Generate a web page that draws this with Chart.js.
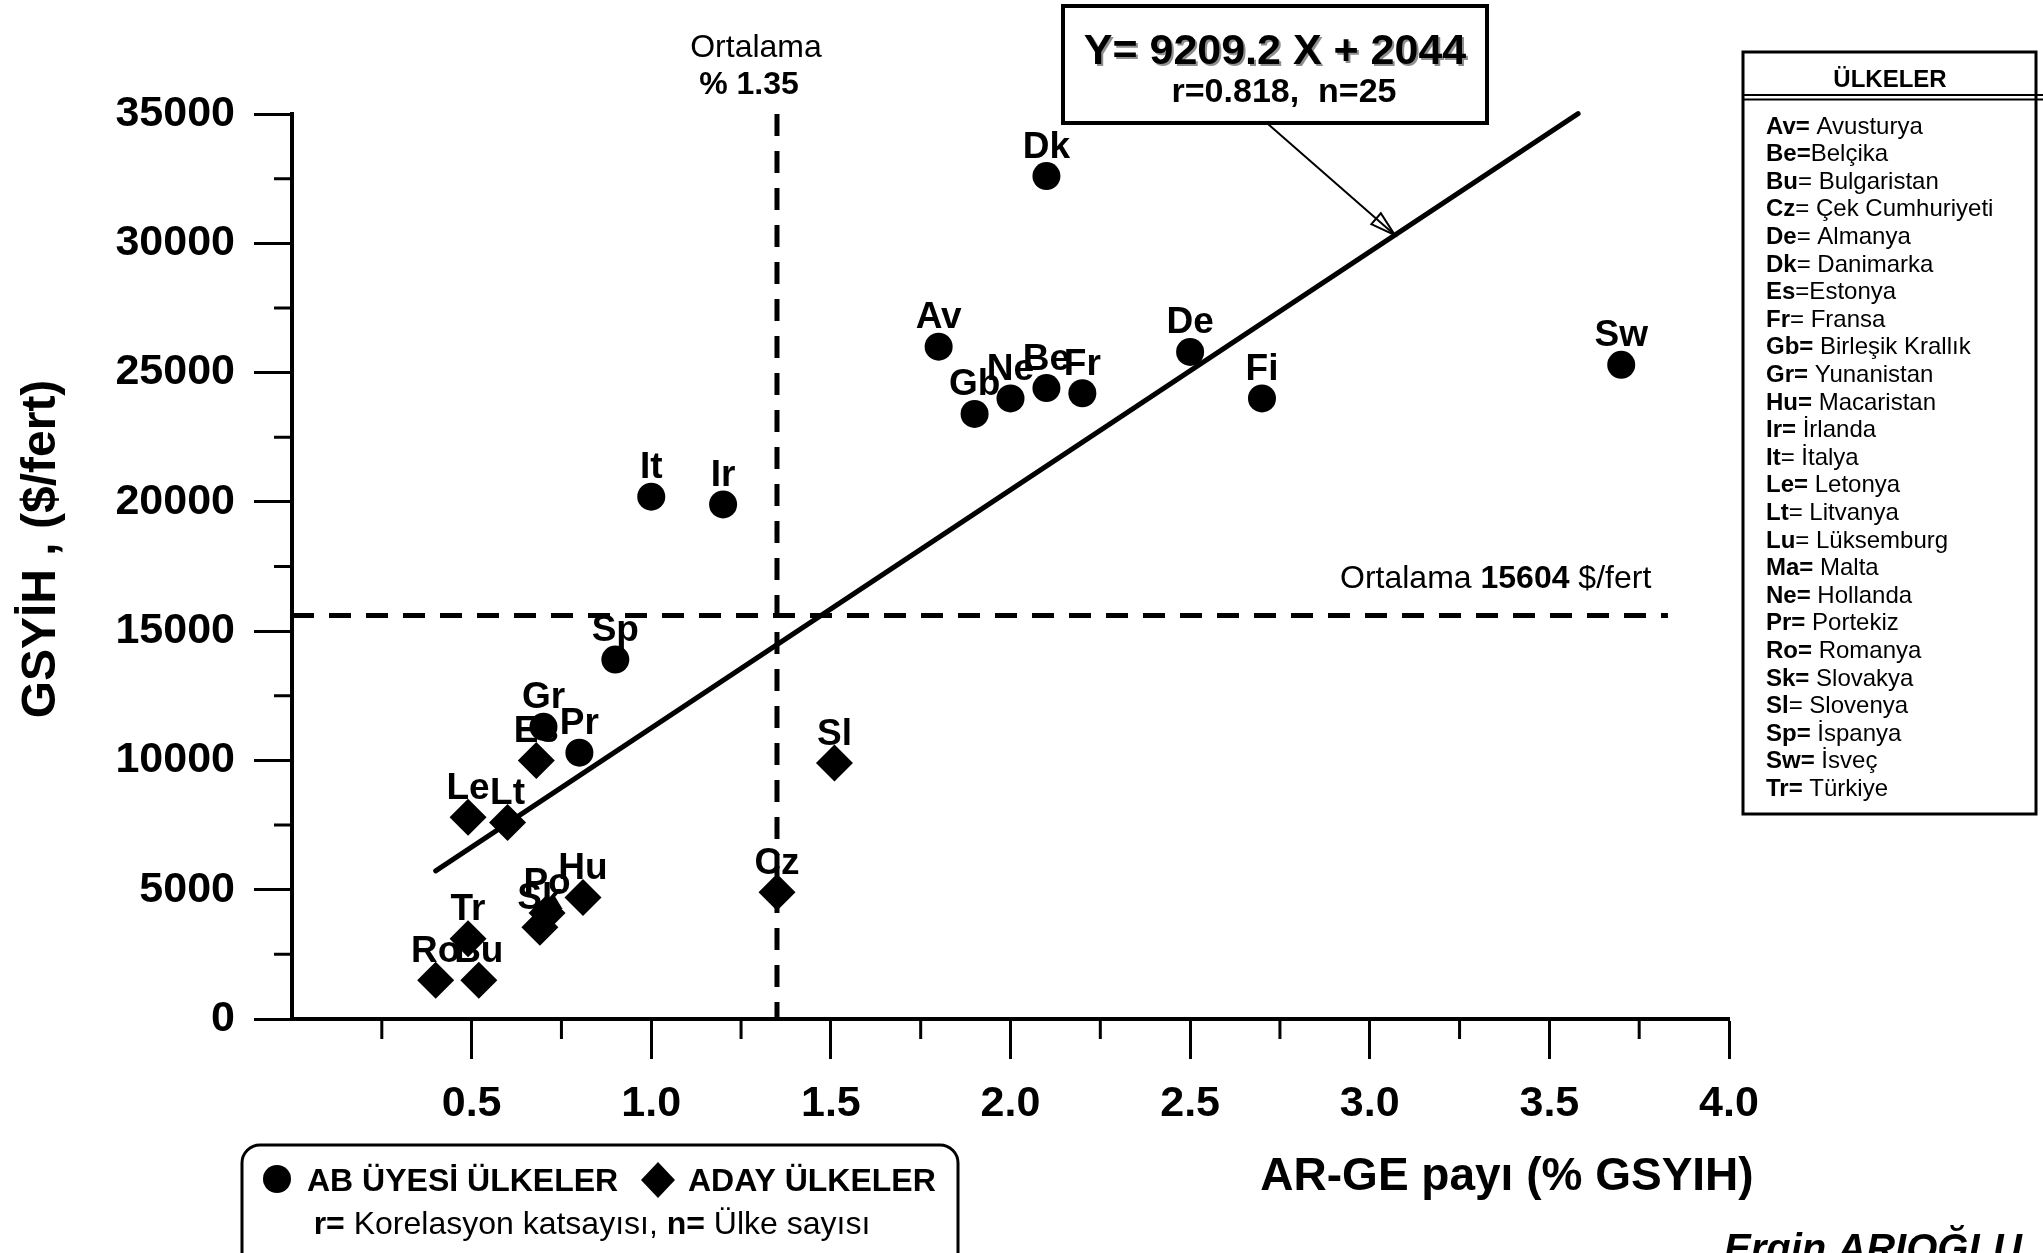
<!DOCTYPE html>
<html lang="tr">
<head>
<meta charset="utf-8">
<title>AR-GE payı ve GSYİH</title>
<script src="https://cdn.jsdelivr.net/npm/chart.js@4.4.0/dist/chart.umd.min.js"></script>
<style>
  html, body { margin: 0; padding: 0; background: #fff; }
  #wrap { width: 2043px; height: 1253px; }
</style>
</head>
<body>
<div id="wrap"><canvas id="argeChart" width="2043" height="1253"></canvas></div>
<script>
// AB üyesi ülkeler: AR-GE payı (% GSYİH) ve kişi başı GSYİH ($/fert)
const abCodes  = ['Dk', 'Av', 'De', 'Sw', 'Gb', 'Ne', 'Be', 'Fr', 'Fi', 'It', 'Ir', 'Sp', 'Gr', 'Pr'];
const abArge   = [2.1, 1.8, 2.5, 3.7, 1.9, 2.0, 2.1, 2.2, 2.7, 1.0, 1.2, 0.9, 0.7, 0.8];
const abGsyih  = [32600, 26000, 25800, 25300, 23400, 24000, 24400, 24200, 24000, 20200, 19900, 13900, 11300, 10300];

// aday ülkeler
const adayCodes = ['Es', 'Sl', 'Le', 'Lt', 'Cz', 'Hu', 'Po', 'Sk', 'Tr', 'Ro', 'Bu'];
const adayArge  = [0.68, 1.51, 0.49, 0.6, 1.35, 0.81, 0.71, 0.69, 0.49, 0.4, 0.52];
const adayGsyih = [10000, 9900, 7800, 7600, 4900, 4700, 4100, 3550, 3100, 1500, 1500];

// ortalamalar ve regresyon doğrusu Y = a X + b
const meanArge = 1.35;
const meanGsyih = 15604;
const meanLineEnd = 3.83;
const regSlope = 9209.2;
const regIntercept = 2044;
const regFrom = 0.4;
const regTo = 3.58;
const regR = '0.818';
const regN = 25;

// eksenler
const xMin = 0, xMax = 4, xStep = 0.5;
const yMin = 0, yMax = 35000, yStep = 5000;

// ülke listesi (kalın kısım, normal kısım)
const listBold = ['Av=', 'Be=', 'Bu', 'Cz', 'De', 'Dk', 'Es', 'Fr', 'Gb=', 'Gr=', 'Hu=', 'Ir=', 'It',
                  'Le=', 'Lt', 'Lu', 'Ma=', 'Ne=', 'Pr=', 'Ro=', 'Sk=', 'Sl', 'Sp=', 'Sw=', 'Tr='];
const listText = [' Avusturya', 'Belçika', '= Bulgaristan', '= Çek Cumhuriyeti', '= Almanya', '= Danimarka',
                  '=Estonya', '= Fransa', ' Birleşik Krallık', ' Yunanistan', ' Macaristan', ' İrlanda',
                  '= İtalya', ' Letonya', '= Litvanya', '= Lüksemburg', ' Malta', ' Hollanda', ' Portekiz',
                  ' Romanya', ' Slovakya', '= Slovenya', ' İspanya', ' İsveç', ' Türkiye'];

const FONT = '"Liberation Sans", Arial, Helvetica, sans-serif';

function font(size, bold, italic) {
  return (italic ? 'italic ' : '') + (bold ? 'bold ' : '') + size + 'px ' + FONT;
}

// karışık kalın/normal metin parçalarını yan yana yazar
function drawRuns(ctx, runs, x, y, size, align) {
  const widths = runs.map(r => { ctx.font = font(size, r[1]); return ctx.measureText(r[0]).width; });
  const total = widths.reduce((a, b) => a + b, 0);
  let cx = align === 'center' ? x - total / 2 : x;
  ctx.save();
  ctx.textAlign = 'left';
  runs.forEach((r, i) => {
    ctx.font = font(size, r[1]);
    ctx.fillText(r[0], cx, y);
    cx += widths[i];
  });
  ctx.restore();
}

const regLine = [regFrom, regTo].map(x => ({ x: x, y: regSlope * x + regIntercept }));

const decor = {
  id: 'decor',
  afterDatasetsDraw(chart) {
    const ctx = chart.ctx;
    ctx.save();
    ctx.fillStyle = '#000';
    ctx.textAlign = 'center';
    ctx.textBaseline = 'alphabetic';
    ctx.font = font(37, true);
    [[0, abCodes], [1, adayCodes]].forEach(([di, codes]) => {
      chart.getDatasetMeta(di).data.forEach((pt, i) => {
        ctx.fillText(codes[i], pt.x, pt.y - 18.5);
      });
    });
    ctx.restore();
  },
  afterDraw(chart) {
    const ctx = chart.ctx;
    const xs = chart.scales.x, ys = chart.scales.y;
    const area = chart.chartArea;
    ctx.save();
    ctx.fillStyle = '#000';
    ctx.strokeStyle = '#000';

    // ara çentikler
    ctx.lineWidth = 3;
    ctx.beginPath();
    for (let v = xMin + xStep / 2; v < xMax; v += xStep) {
      const px = xs.getPixelForValue(v);
      ctx.moveTo(px, area.bottom);
      ctx.lineTo(px, area.bottom + 20);
    }
    for (let v = yMin + yStep / 2; v < yMax; v += yStep) {
      const py = ys.getPixelForValue(v);
      ctx.moveTo(area.left - 18, py);
      ctx.lineTo(area.left, py);
    }
    ctx.stroke();

    // eksen başlıkları
    ctx.textBaseline = 'alphabetic';
    ctx.textAlign = 'center';
    ctx.font = font(46, true);
    ctx.fillText('AR-GE payı (% GSYIH)', 1507, 1190);
    ctx.save();
    ctx.translate(55, 549);
    ctx.rotate(-Math.PI / 2);
    ctx.font = font(48, true);
    ctx.fillText('GSYİH , ($/fert)', 0, 0);
    ctx.restore();

    // ortalama etiketleri
    ctx.font = font(32, false);
    ctx.fillText('Ortalama', 756, 57);
    ctx.font = font(32, true);
    ctx.fillText('% ' + meanArge.toFixed(2), 749, 94);
    drawRuns(ctx, [['Ortalama ', false], [String(meanGsyih), true], [' $/fert', false]], 1340, 588, 32, 'left');

    // regresyon kutusu
    ctx.lineWidth = 4;
    ctx.strokeRect(1063, 6, 424, 117);
    ctx.textAlign = 'center';
    ctx.font = font(43, true);
    const eq = 'Y= ' + regSlope.toFixed(1) + ' X + ' + regIntercept;
    ctx.fillStyle = '#8f8f8f';
    ctx.fillText(eq, 1277, 66);
    ctx.fillStyle = '#000';
    ctx.fillText(eq, 1275, 64);
    ctx.font = font(34, true);
    ctx.fillText('r=' + regR + ',  n=' + regN, 1284, 102);

    // kutudan doğruya ok
    const tipX = xs.getPixelForValue(3.07);
    const tipY = ys.getPixelForValue(regSlope * 3.07 + regIntercept);
    const sx = 1268, sy = 124;
    const ang = Math.atan2(tipY - sy, tipX - sx);
    ctx.lineWidth = 2;
    ctx.beginPath();
    ctx.moveTo(sx, sy);
    ctx.lineTo(tipX, tipY);
    ctx.stroke();
    ctx.beginPath();
    ctx.moveTo(tipX, tipY);
    ctx.lineTo(tipX - 26 * Math.cos(ang - 0.28), tipY - 26 * Math.sin(ang - 0.28));
    ctx.lineTo(tipX - 26 * Math.cos(ang + 0.28), tipY - 26 * Math.sin(ang + 0.28));
    ctx.closePath();
    ctx.stroke();

    // ülke listesi
    ctx.lineWidth = 3;
    ctx.strokeRect(1743, 52, 293, 762);
    ctx.lineWidth = 2;
    ctx.beginPath();
    ctx.moveTo(1743, 95); ctx.lineTo(2043, 95);
    ctx.moveTo(1743, 99.5); ctx.lineTo(2043, 99.5);
    ctx.stroke();
    ctx.font = font(24, true);
    ctx.textAlign = 'center';
    ctx.fillText('ÜLKELER', 1890, 87);
    listBold.forEach((b, i) => {
      drawRuns(ctx, [[b, true], [listText[i], false]], 1766, 133.6 + i * 27.6, 24, 'left');
    });

    // alt açıklama kutusu
    ctx.lineWidth = 3;
    ctx.beginPath();
    ctx.roundRect(242, 1145, 716, 150, 18);
    ctx.stroke();
    ctx.beginPath();
    ctx.arc(277, 1179, 14, 0, Math.PI * 2);
    ctx.fill();
    ctx.beginPath();
    ctx.moveTo(658, 1162); ctx.lineTo(675, 1180); ctx.lineTo(658, 1198); ctx.lineTo(641, 1180);
    ctx.closePath();
    ctx.fill();
    ctx.font = font(32, true);
    ctx.textAlign = 'left';
    ctx.fillText('AB ÜYESİ ÜLKELER', 307, 1191);
    ctx.fillText('ADAY ÜLKELER', 688, 1191);
    drawRuns(ctx, [['r=', true], [' Korelasyon katsayısı, ', false], ['n=', true], [' Ülke sayısı', false]],
             592, 1234, 32, 'center');

    // imza
    ctx.font = font(40, true, true);
    ctx.textAlign = 'left';
    ctx.fillText('Ergin ARIOĞLU', 1724, 1262);

    ctx.restore();
  }
};

new Chart(document.getElementById('argeChart'), {
  type: 'scatter',
  data: {
    datasets: [
      {
        label: 'AB ÜYESİ ÜLKELER',
        data: abArge.map((x, i) => ({ x: x, y: abGsyih[i] })),
        pointStyle: 'circle',
        pointRadius: 14,
        pointBorderWidth: 0,
        backgroundColor: '#000',
        borderColor: '#000',
        clip: false
      },
      {
        label: 'ADAY ÜLKELER',
        data: adayArge.map((x, i) => ({ x: x, y: adayGsyih[i] })),
        pointStyle: 'rectRot',
        pointRadius: 18.5,
        pointBorderWidth: 0,
        backgroundColor: '#000',
        borderColor: '#000',
        clip: false
      },
      {
        label: 'Regresyon',
        data: regLine,
        showLine: true,
        borderColor: '#000',
        borderWidth: 5,
        borderCapStyle: 'round',
        pointRadius: 0,
        clip: false
      },
      {
        label: 'Ortalama AR-GE',
        data: [{ x: meanArge, y: yMax }, { x: meanArge, y: yMin }],
        showLine: true,
        borderColor: '#000',
        borderWidth: 5,
        borderDash: [22, 15],
        pointRadius: 0,
        clip: false
      },
      {
        label: 'Ortalama GSYİH',
        data: [{ x: xMin, y: meanGsyih }, { x: meanLineEnd, y: meanGsyih }],
        showLine: true,
        borderColor: '#000',
        borderWidth: 5,
        borderDash: [22, 15],
        pointRadius: 0,
        clip: false
      }
    ]
  },
  options: {
    responsive: false,
    animation: false,
    events: [],
    layout: { padding: { top: 114, right: 314, bottom: 0, left: 0 } },
    plugins: {
      legend: { display: false },
      tooltip: { enabled: false }
    },
    scales: {
      x: {
        type: 'linear',
        min: xMin,
        max: xMax,
        ticks: {
          stepSize: xStep,
          padding: 19,
          color: '#000',
          maxRotation: 0,
          autoSkip: false,
          font: { family: FONT, size: 43, weight: 'bold' },
          callback: v => (v === 0 ? '' : v.toFixed(1))
        },
        grid: {
          drawOnChartArea: false,
          drawTicks: true,
          tickLength: 40,
          tickWidth: 3,
          tickColor: c => (c.tick && c.tick.value === 0 ? 'rgba(0,0,0,0)' : '#000')
        },
        border: { display: true, color: '#000', width: 4 },
        afterFit: s => { s.height = 234; }
      },
      y: {
        type: 'linear',
        min: yMin,
        max: yMax,
        ticks: {
          stepSize: yStep,
          padding: 19,
          color: '#000',
          font: { family: FONT, size: 43, weight: 'bold' },
          callback: v => String(v)
        },
        grid: {
          drawOnChartArea: false,
          drawTicks: true,
          tickLength: 38,
          tickWidth: 3,
          tickColor: '#000'
        },
        border: { display: true, color: '#000', width: 4 },
        afterFit: s => { s.width = 292; }
      }
    }
  },
  plugins: [decor]
});
</script>
</body>
</html>
